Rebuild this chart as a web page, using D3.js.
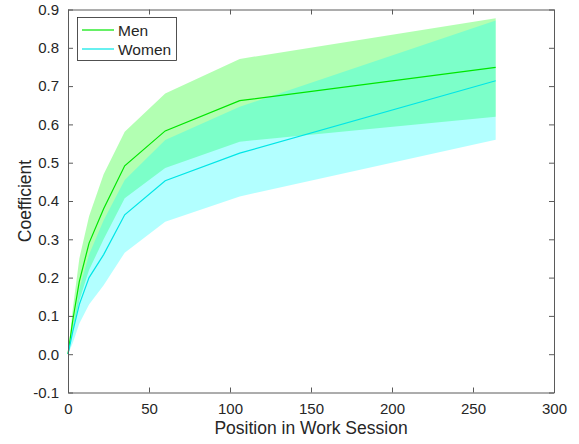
<!DOCTYPE html>
<html>
<head>
<meta charset="utf-8">
<script src="https://cdn.jsdelivr.net/npm/d3@7"></script>
<style>
  body { margin: 0; background: #fff; }
  text { font-family: "Liberation Sans", Arial, sans-serif; fill: #262626; }
</style>
</head>
<body>
<script>
// position in work session
var positions = [0, 3, 7, 13, 22, 35, 60, 106, 264];

var menMean  = [0, 0.09, 0.19, 0.29, 0.38, 0.492, 0.583, 0.662, 0.749];
var menUpper = [0, 0.12, 0.25, 0.36, 0.47, 0.581, 0.681, 0.771, 0.877];
var menLower = [0, 0.06, 0.14, 0.22, 0.30, 0.407, 0.486, 0.555, 0.620];

var womenMean  = [0, 0.06, 0.13, 0.20, 0.26, 0.364, 0.453, 0.525, 0.714];
var womenUpper = [0, 0.07, 0.17, 0.26, 0.35, 0.455, 0.559, 0.646, 0.871];
var womenLower = [0, 0.03, 0.08, 0.13, 0.18, 0.265, 0.346, 0.412, 0.560];

var xTicks = [0, 50, 100, 150, 200, 250, 300];
var yTicks = [-0.1, 0, 0.1, 0.2, 0.3, 0.4, 0.5, 0.6, 0.7, 0.8, 0.9];

function main(){
	var width = 579, height = 444;
	var left = 68, right = 554, top = 9.5, bottom = 392.5;

	var svg = d3.select('body').append('svg').attr('width', width).attr('height', height);

	var x = d3.scaleLinear().domain([0, 300]).range([left, right]);
	var y = d3.scaleLinear().domain([-0.1, 0.9]).range([bottom, top]);

	var series = [
		{name: 'Men', mean: menMean, upper: menUpper, lower: menLower, fill: '#00ff00', stroke: '#00e600'},
		{name: 'Women', mean: womenMean, upper: womenUpper, lower: womenLower, fill: '#00ffff', stroke: '#00e6e6'}
	];

	var area = d3.area()
		.x(function(d){ return x(d.x); })
		.y0(function(d){ return y(d.lo); })
		.y1(function(d){ return y(d.hi); });

	var line = d3.line()
		.x(function(d){ return x(d.x); })
		.y(function(d){ return y(d.v); });

	// shaded bands first
	series.forEach(function(s){
		var pts = positions.map(function(p, i){ return {x: p, lo: s.lower[i], hi: s.upper[i]}; });
		svg.append('path').attr('d', area(pts))
			.attr('fill', s.fill).attr('fill-opacity', 0.3).attr('stroke', 'none');
	});

	series.forEach(function(s){
		var pts = positions.map(function(p, i){ return {x: p, v: s.mean[i]}; });
		svg.append('path').attr('d', line(pts))
			.attr('fill', 'none').attr('stroke', s.stroke).attr('stroke-width', 1.2);
	});

	// axes (box with inward ticks)
	var axColor = '#5a5a5a';
	var xb = svg.append('g').attr('transform', 'translate(0,' + bottom + ')')
		.call(d3.axisBottom(x).tickValues(xTicks).tickSizeInner(-5).tickSizeOuter(0).tickPadding(11));
	var xt = svg.append('g').attr('transform', 'translate(0,' + top + ')')
		.call(d3.axisTop(x).tickValues(xTicks).tickSizeInner(-5).tickSizeOuter(0).tickFormat(''));
	var yl = svg.append('g').attr('transform', 'translate(' + left + ',0)')
		.call(d3.axisLeft(y).tickValues(yTicks).tickSizeInner(-5).tickSizeOuter(0).tickPadding(9)
			.tickFormat(function(d){ return d3.format('.1f')(d).replace('−', '-'); }));
	var yr = svg.append('g').attr('transform', 'translate(' + right + ',0)')
		.call(d3.axisRight(y).tickValues(yTicks).tickSizeInner(-5).tickSizeOuter(0).tickFormat(''));

	[xb, xt, yl, yr].forEach(function(g){
		g.select('.domain').attr('stroke', axColor);
		g.selectAll('.tick line').attr('stroke', axColor);
		g.selectAll('.tick text').style('font-size', '15px').attr('fill', '#262626')
			.style('font-family', '"Liberation Sans", Arial, sans-serif');
	});

	svg.append('text').attr('x', (left + right) / 2).attr('y', 434)
		.attr('text-anchor', 'middle').style('font-size', '17.5px')
		.text('Position in Work Session');

	svg.append('text').attr('transform', 'translate(30.5,' + ((top + bottom) / 2) + ') rotate(-90)')
		.attr('text-anchor', 'middle').style('font-size', '17.5px')
		.text('Coefficient');

	// legend
	var lg = svg.append('g');
	lg.append('rect').attr('x', 77.5).attr('y', 17.5).attr('width', 99).attr('height', 43)
		.attr('fill', '#fff').attr('stroke', '#262626').attr('stroke-width', 0.8);
	series.forEach(function(s, i){
		var yy = 30 + i * 19;
		lg.append('line').attr('x1', 82).attr('x2', 114).attr('y1', yy).attr('y2', yy)
			.attr('stroke', s.stroke).attr('stroke-width', 1.2);
		lg.append('text').attr('x', 118).attr('y', yy + 5.5).style('font-size', '15.5px').text(s.name);
	});
}

main();
</script>
</body>
</html>
